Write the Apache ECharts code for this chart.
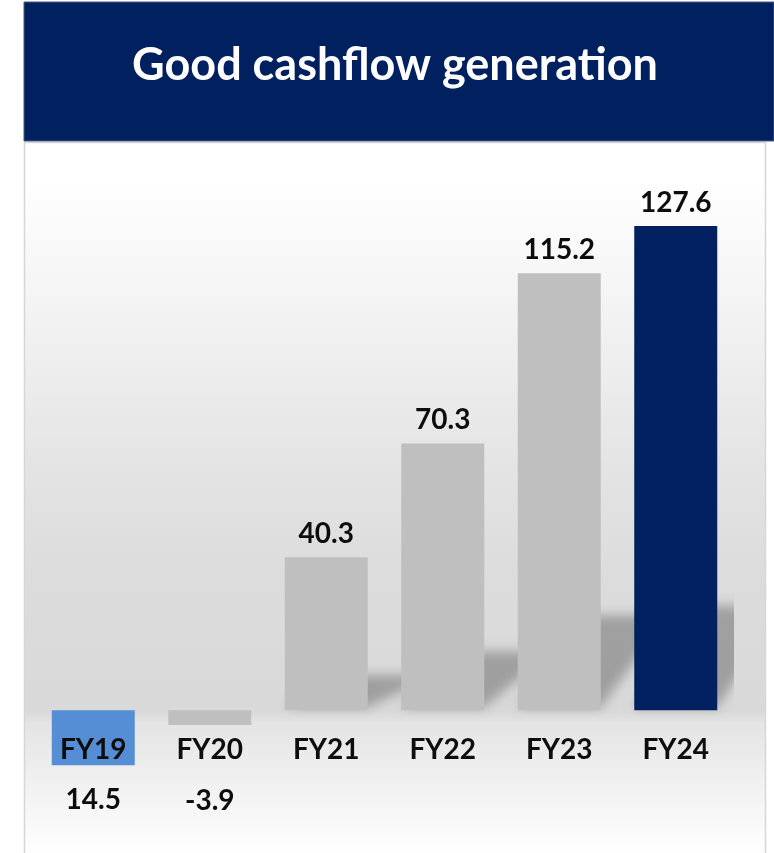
<!DOCTYPE html>
<html>
<head>
<meta charset="utf-8">
<script src="https://cdn.jsdelivr.net/npm/echarts@6/dist/echarts.min.js"></script>
<style>
html, body { margin: 0; padding: 0; background: #fff; }
#chart { width: 774px; height: 853px; }
</style>
</head>
<body>
<div id="chart"></div>
<script>
// data
var categories = ['FY19', 'FY20', 'FY21', 'FY22', 'FY23', 'FY24'];
// heights as drawn (FY19 bar hangs below the axis in the original)
var barValues = [-14.5, -3.9, 40.3, 70.3, 115.2, 127.6];
var valueLabels = ['14.5', '-3.9', '40.3', '70.3', '115.2', '127.6'];
var titleText = 'Good cashflow generation';

var navy = '#00205F';
var fontFam = 'Lato, "Open Sans", sans-serif';

var chart = echarts.init(document.getElementById('chart'));

function barColor(i) {
    if (i === 0) return '#558ED5';
    if (i === categories.length - 1) return navy;
    return '#BFBFBF';
}

// labels of the negative bars sit on one line below the axis labels
function labelOpt(i) {
    var v = barValues[i];
    if (v >= 0) return { position: 'top', distance: 9 };
    return { position: 'bottom', distance: i === 0 ? 21 : 62 };
}

var barData = barValues.map(function (v, i) {
    return {
        value: v,
        itemStyle: { color: barColor(i) },
        label: labelOpt(i)
    };
});

var shadowData = barValues.map(function (v, i) { return [i, v]; });

var option = {
    backgroundColor: '#FFFFFF',
    animation: false,
    graphic: [
        {
            type: 'rect', z: -10,
            shape: { x: 24.5, y: 142.5, width: 741, height: 720 },
            style: {
                fill: new echarts.graphic.LinearGradient(0, 0, 0, 1, [
                    { offset: 0, color: '#ffffff' },
                    { offset: 0.05, color: '#ffffff' },
                    { offset: 0.22, color: '#f4f4f4' },
                    { offset: 0.45, color: '#e4e4e4' },
                    { offset: 0.6, color: '#dcdcdc' },
                    { offset: 0.79, color: '#d9d9d9' },
                    { offset: 0.805, color: '#e4e4e4' },
                    { offset: 0.87, color: '#eeeeee' },
                    { offset: 0.96, color: '#fbfbfb' },
                    { offset: 1, color: '#ffffff' }
                ]),
                stroke: '#d6d6d6',
                lineWidth: 1.5
            }
        },
        {
            type: 'rect', z: -5,
            shape: { x: 24, y: 2, width: 750, height: 139 },
            style: { fill: navy, stroke: '#4a5b80', lineWidth: 1 }
        },
        {
            type: 'text', z: -4,
            x: 395, y: 65,
            style: {
                text: titleText,
                fill: '#ffffff',
                font: 'bold 45px ' + fontFam,
                textAlign: 'center',
                textVerticalAlign: 'middle'
            }
        }
    ],
    grid: {
        left: 35,
        right: 40,
        top: 217,
        bottom: 67,
        containLabel: false
    },
    xAxis: {
        type: 'category',
        data: categories,
        offset: -76,
        z: 10,
        axisLine: { show: false },
        axisTick: { show: false },
        axisLabel: {
            margin: 26,
            fontSize: 28,
            fontWeight: 'bold',
            fontFamily: fontFam,
            color: '#0d0d0d'
        }
    },
    yAxis: {
        type: 'value',
        min: -20,
        max: 130,
        axisLine: { show: false },
        axisTick: { show: false },
        axisLabel: { show: false },
        splitLine: { show: false }
    },
    series: [
        {
            // soft floor shadows behind the bars (only the blurred shadow is visible)
            type: 'custom',
            z: 1,
            clip: true,
            silent: true,
            data: shadowData,
            encode: { x: 0, y: 1 },
            renderItem: function (params, api) {
                var i = api.value(0);
                var v = api.value(1);
                if (v <= 0) return;
                var base = api.coord([i, 0]);
                var top = api.coord([i, v]);
                var hw = 41.5;
                var dy = (base[1] - top[1]) * 0.21;
                var dx = 68;
                var far = 1000;
                var b = base[1] - 3;
                return {
                    type: 'polygon',
                    shape: {
                        points: [
                            [far + base[0] - hw, b],
                            [far + base[0] + hw, b],
                            [far + base[0] + hw + dx, b - dy],
                            [far + base[0] - hw + dx, b - dy]
                        ]
                    },
                    style: {
                        fill: '#000',
                        shadowBlur: 12,
                        shadowOffsetX: -far,
                        shadowColor: 'rgba(0,0,0,0.27)'
                    }
                };
            }
        },
        {
            type: 'bar',
            z: 2,
            barWidth: 83,
            data: barData,
            label: {
                show: true,
                formatter: function (p) { return valueLabels[p.dataIndex]; },
                fontSize: 28,
                fontWeight: 'bold',
                fontFamily: fontFam,
                color: '#0d0d0d'
            }
        }
    ]
};

chart.setOption(option);
</script>
</body>
</html>
